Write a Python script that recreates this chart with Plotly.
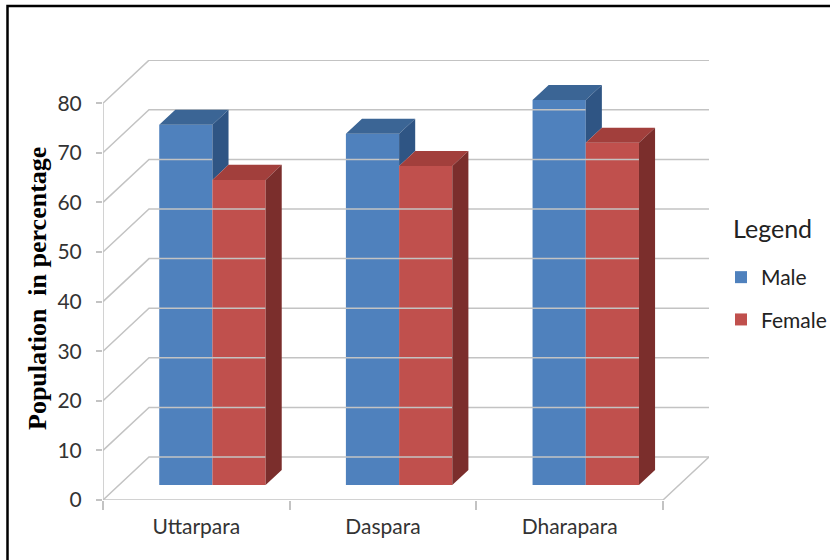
import plotly.graph_objects as go

categories = ["Uttarpara", "Daspara", "Dharapara"]
male = [72.6, 70.8, 77.6]
female = [61.5, 64.3, 69.0]
y_ticks = [0, 10, 20, 30, 40, 50, 60, 70, 80]

# oblique projection of the 3-D box (depth in axis units)
DX = 0.2464
DY = 8.665
F1, F2 = 0.35, 0.70
W = 0.285
GRID = "#C3C3C3"
MALE_C = ["#4F81BD", "#3B6595", "#2F5584"]
FEM_C = ["#C0504D", "#A23F3C", "#7B2E2C"]

n = len(categories)
x_left = -0.5
x_right = n - 0.5
bx = F1 * DX
by = F1 * DY
ddx = (F2 - F1) * DX
ddy = (F2 - F1) * DY

fig = go.Figure()

def line(xs, ys):
    fig.add_trace(go.Scatter(x=xs, y=ys, mode="lines", line=dict(color=GRID, width=1.5),
                             hoverinfo="skip", showlegend=False, cliponaxis=False))

# side wall diagonals + back wall grid lines
for v in y_ticks:
    line([x_left, x_left + DX, x_right + DX], [v, v + DY, v + DY])
# floor front & right edge
line([x_left, x_right, x_right + DX], [0, 0, DY])
# front vertical axis
line([x_left, x_left], [0, y_ticks[-1]])

# front faces as bars
xm = [i + bx - W / 2 for i in range(n)]
xf = [i + bx + W / 2 for i in range(n)]
fig.add_trace(go.Bar(x=xm, y=male, base=by, width=W, name="Male",
                     marker=dict(color=MALE_C[0], line=dict(width=0)), legendgroup="m"))
fig.add_trace(go.Bar(x=xf, y=female, base=by, width=W, name="Female",
                     marker=dict(color=FEM_C[0], line=dict(width=0)), legendgroup="f"))

def poly(pts_list, color):
    xs, ys = [], []
    for pts in pts_list:
        for (px_, py_) in pts:
            xs.append(px_); ys.append(py_)
        xs.append(pts[0][0]); ys.append(pts[0][1])
        xs.append(None); ys.append(None)
    fig.add_trace(go.Scatter(x=xs, y=ys, mode="lines", fill="toself", fillcolor=color,
                             line=dict(width=0, color=color), hoverinfo="skip",
                             showlegend=False, cliponaxis=False))

def top(xc, v):
    x0, x1 = xc - W / 2, xc + W / 2
    t = by + v
    return [(x0, t), (x1, t), (x1 + ddx, t + ddy), (x0 + ddx, t + ddy)]

def side(xc, vlow, vhigh):
    x1 = xc + W / 2
    return [(x1, by + vlow), (x1, by + vhigh), (x1 + ddx, by + vhigh + ddy), (x1 + ddx, by + vlow + ddy)]

poly([top(xm[i], male[i]) for i in range(n)], MALE_C[1])
poly([side(xm[i], min(female[i], male[i]), male[i]) for i in range(n)], MALE_C[2])
poly([top(xf[i], female[i]) for i in range(n)], FEM_C[1])
poly([side(xf[i], 0, female[i]) for i in range(n)], FEM_C[2])

PW, PH = 606, 440
L, T = 103, 60
R = 830 - L - PW
B = 560 - T - PH

def px(xp):
    return (xp - L) / PW

def py(yp):
    return (560 - B - yp) / PH

fig.add_annotation(text="<b>Population\u00a0 in percentage</b>", xref="paper", yref="paper",
                   x=px(37), y=py(289), xanchor="center", yanchor="middle",
                   textangle=-90, showarrow=False,
                   font=dict(family="Liberation Serif", size=26, color="black"))

fig.add_annotation(text="Legend", xref="paper", yref="paper",
                   x=px(731), y=py(228), xanchor="left", yanchor="middle",
                   showarrow=False,
                   font=dict(family="Lato", size=25, color="#222"))

# outer frame (top and left edges visible)
fig.add_shape(type="rect", xref="paper", yref="paper",
              x0=px(7.5), x1=px(850), y0=py(600), y1=py(6),
              line=dict(color="black", width=2.5))

fig.update_layout(
    width=830, height=560,
    margin=dict(l=L, r=R, t=T, b=B, autoexpand=False),
    plot_bgcolor="white", paper_bgcolor="white",
    barmode="overlay",
    showlegend=True,
    legend=dict(font=dict(family="Lato", size=21, color="#222"),
                x=px(731), y=py(257), xanchor="left", yanchor="top",
                traceorder="grouped", tracegroupgap=12, indentation=-10,
                bgcolor="rgba(0,0,0,0)"),
    xaxis=dict(range=[x_left, x_right + DX], tickvals=list(range(n)), ticktext=categories,
               showgrid=False, zeroline=False, showline=False, ticks="",
               ticklabelstandoff=12,
               tickfont=dict(family="Lato", size=21, color="#333"),
               minor=dict(tickvals=[x_left + k for k in range(n + 1)], ticks="outside",
                          ticklen=9, tickcolor=GRID, tickwidth=1.5, showgrid=False)),
    yaxis=dict(range=[0, 88.7], tickvals=y_ticks, showgrid=False, zeroline=False,
               showline=False, ticks="outside", ticklen=6, tickcolor=GRID, tickwidth=1.5,
               ticklabelstandoff=10,
               tickfont=dict(family="Lato", size=21, color="#333")),
)

fig.write_html("out.html", config={"displayModeBar": False},
               post_script="document.body.style.margin='0';document.body.style.overflow='hidden';")
